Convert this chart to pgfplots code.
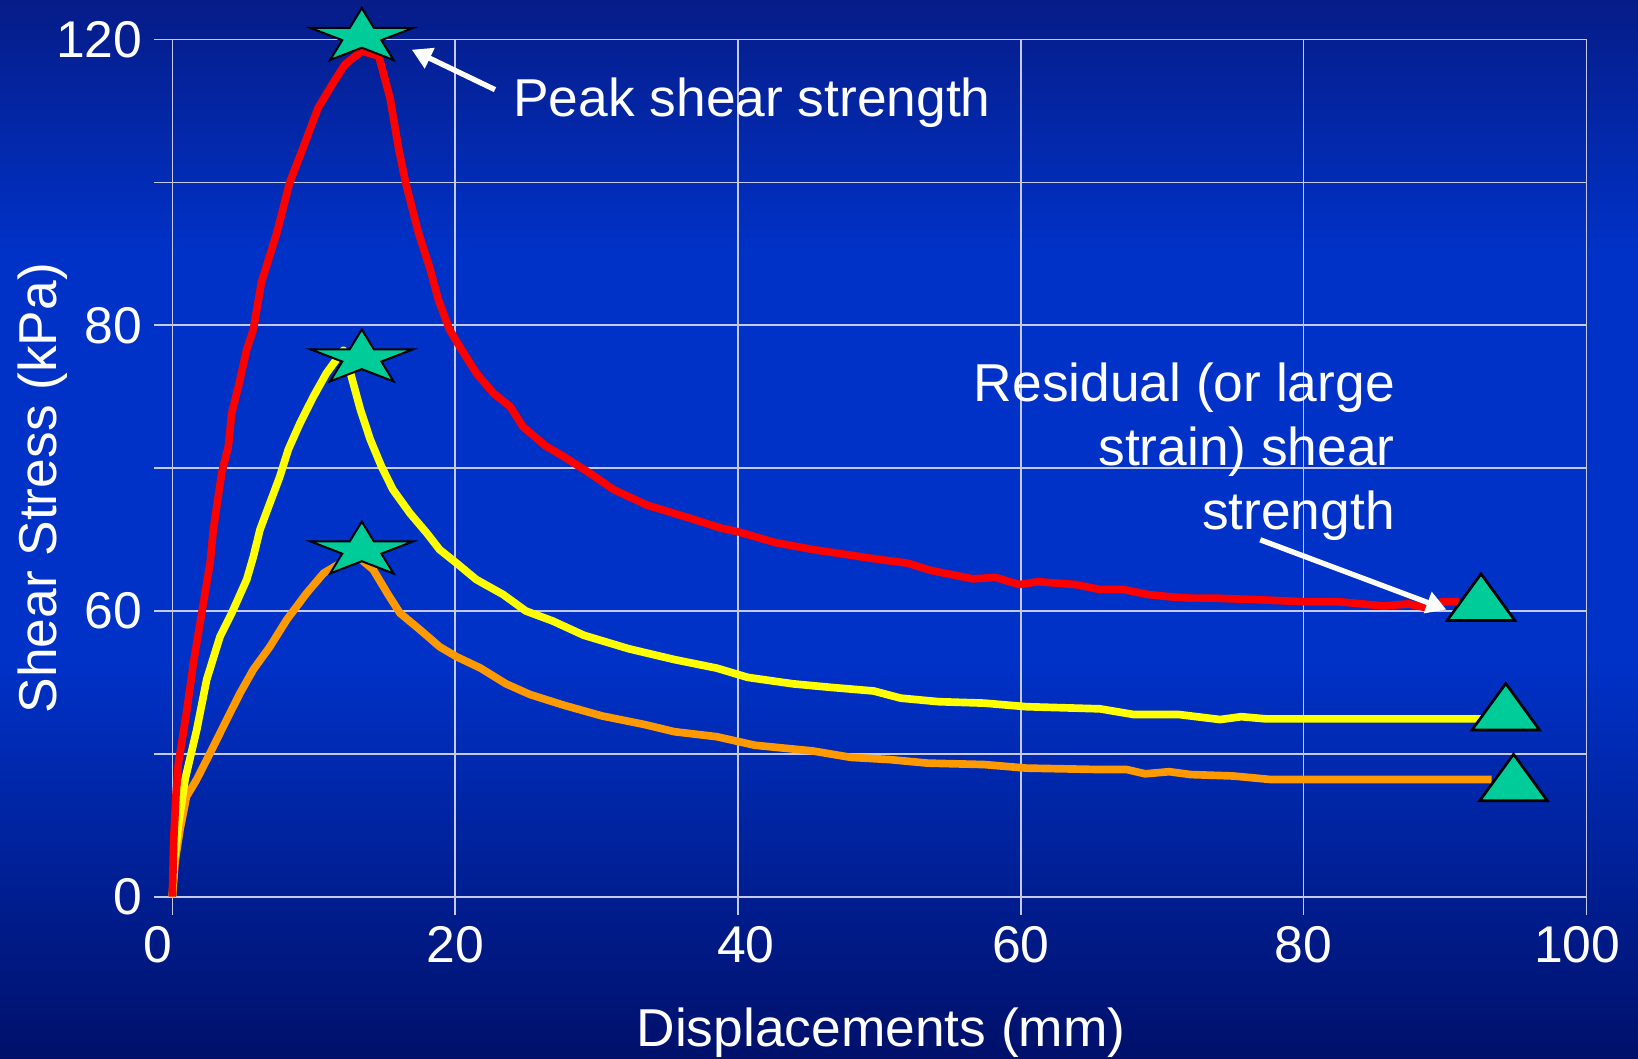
\documentclass[border=0pt]{standalone}
\usepackage{fontspec}
\setmainfont{Liberation Sans}
\usepackage{pgfplots}
\pgfplotsset{compat=1.18}
\usetikzlibrary{arrows.meta}
\definecolor{bgtop}{RGB}{6,28,136}
\definecolor{bgmid}{RGB}{0,50,200}
\definecolor{bgbot}{RGB}{0,16,106}
\definecolor{gridc}{RGB}{196,202,234}
\definecolor{starc}{RGB}{0,204,153}
\definecolor{curvered}{RGB}{255,0,0}
\definecolor{curveyel}{RGB}{255,255,0}
\definecolor{curveora}{RGB}{255,153,0}
\pgfdeclareverticalshading{bgshade}{100bp}{color(0bp)=(bgbot); color(25bp)=(bgbot); color(44bp)=(bgmid); color(63bp)=(bgmid); color(75bp)=(bgtop); color(100bp)=(bgtop)}
\pgfdeclareplotmark{fstar}{%
  \pgfpathmoveto{\pgfpointpolar{90}{\pgfplotmarksize}}%
  \pgfpathlineto{\pgfpointpolar{126}{0.382\pgfplotmarksize}}%
  \pgfpathlineto{\pgfpointpolar{162}{\pgfplotmarksize}}%
  \pgfpathlineto{\pgfpointpolar{198}{0.382\pgfplotmarksize}}%
  \pgfpathlineto{\pgfpointpolar{234}{\pgfplotmarksize}}%
  \pgfpathlineto{\pgfpointpolar{270}{0.382\pgfplotmarksize}}%
  \pgfpathlineto{\pgfpointpolar{306}{\pgfplotmarksize}}%
  \pgfpathlineto{\pgfpointpolar{342}{0.382\pgfplotmarksize}}%
  \pgfpathlineto{\pgfpointpolar{18}{\pgfplotmarksize}}%
  \pgfpathlineto{\pgfpointpolar{54}{0.382\pgfplotmarksize}}%
  \pgfpathclose
  \pgfusepathqfillstroke
}
\begin{document}
\begin{tikzpicture}
\shade[shading=bgshade] (-51.7pt,-48.7pt) rectangle (439.7pt,269.0pt);
\path[use as bounding box] (-51.7pt,-48.7pt) rectangle (439.7pt,269.0pt);
\begin{axis}[
  at={(0,0)}, anchor=south west,
  scale only axis, width=424.2pt, height=257.1pt,
  xmin=0, xmax=100, ymin=0, ymax=120,
  xtick={0,20,...,100}, ytick={0,20,...,120},
  xticklabels={{\kern-4.4pt 0\kern4.4pt},20,{\kern2.4pt 40\kern-2.4pt},60,80,{\kern-2.7pt 100\kern2.7pt}},
  yticklabels={0,,60,,80,,120},
  grid=major, grid style={gridc, line width=0.5pt},
  axis line style={gridc, line width=0.5pt},
  tick style={gridc, line width=0.5pt},
  tick pos=left,
  tick align=outside, major tick length=5.5pt,
  ticklabel style={font=\fontsize{15.5}{18}\selectfont, text=white},
  /pgf/number format/assume math mode=true,
  xlabel={Displacements (mm)}, ylabel={Shear Stress (kPa)},
  label style={font=\fontsize{16}{19}\selectfont, text=white},
  xlabel style={at={(axis description cs:0.5012,-0.1749)}, anchor=base},
  ylabel style={at={(axis description cs:-0.0818,0.4766)}, anchor=base},
  clip=false,
]
% orange curve
\addplot[curveora, line width=2.3pt, line join=round] coordinates {
(0,0) (0.2,5) (0.54,9.35) (1.0,14.0) (1.72,16.4) (2.67,20.1) (3.85,24.8) (4.79,28.5)
(5.73,31.8) (6.9,35.0) (8.1,38.8) (9.5,42.5) (10.7,45.3) (11.9,46.7) (13.0,47.8)
(14.2,45.8) (15.2,42.5) (16.1,39.7) (17.5,37.4) (18.9,35.0) (20.1,33.6) (21.8,32.0)
(23.6,29.8) (25.3,28.3) (27.7,26.8) (30.4,25.3) (33.4,24.1) (35.5,23.1) (38.5,22.4)
(41.2,21.2) (45.3,20.4) (48,19.5) (50.7,19.2) (53.4,18.7) (57.4,18.5) (60.4,18.0)
(65.6,17.8) (67.5,17.8) (68.8,17.2) (70.5,17.5) (72,17.1) (75,16.9) (77.7,16.4) (93.3,16.4)
};
% yellow curve
\addplot[curveyel, line width=2.3pt, line join=round] coordinates {
(0,0) (0.15,5) (0.43,10) (0.9,16.4) (1.73,23.4) (2.43,30.4) (3.37,36.4) (4.2,39.7)
(5.26,44.4) (5.73,47.6) (6.2,51.4) (6.9,55.1) (7.6,58.8) (8.2,62.6) (9.03,66.3)
(9.97,70.0) (10.9,73.3) (11.6,75.2) (12.1,76.5) (12.6,73.3) (13.3,68.2) (14.0,64.0)
(14.8,60.2) (15.6,57.0) (16.8,53.7) (18.0,50.9) (18.9,48.6) (20.1,46.7) (21.5,44.4)
(23.4,42.3) (25,40) (26.9,38.6) (29.1,36.6) (32.3,34.7) (35.5,33.2) (38.5,32)
(40.7,30.7) (43.9,29.8) (46.6,29.3) (49.6,28.8) (51.5,27.8) (54.2,27.3) (57.4,27.1)
(60.4,26.6) (65.6,26.3) (68,25.5) (71.2,25.5) (74.1,24.8) (75.6,25.2) (77.3,24.9) (92.6,24.9)
};
% red curve
\addplot[curvered, line width=2.3pt, line join=round] coordinates {
(0,0) (0.1,8) (0.25,14) (0.43,18.7) (1.0,25.7) (1.49,32.7) (2.08,39.7) (2.67,46.7)
(2.9,51.4) (3.49,59.3) (3.96,63) (4.2,67.7) (4.67,71.4) (5.26,76.6) (5.73,79.4)
(6.3,86) (7.4,93) (8.3,100) (9.2,104.6) (10.3,110.4) (11.36,113.9) (12.2,116.5)
(13.4,118.4) (14.6,117.7) (15.4,111.8) (16.0,104.8) (16.5,100) (17.4,93) (18.2,88.1)
(18.8,83.7) (19.6,79.4) (20.3,77.1) (21.5,73.3) (22.7,70.5) (23.9,68.6) (24.8,65.8)
(26.4,63.1) (27.7,61.6) (29.6,59.2) (31.2,57.0) (33.6,54.8) (36.6,53.0) (38.8,51.6)
(40,51.1) (42.6,49.6) (45.3,48.6) (47.7,47.9) (49.3,47.4) (52.0,46.7) (53.6,45.7)
(56.6,44.5) (58.2,44.7) (59.9,43.7) (61.2,44.1) (63.9,43.7) (65.6,43.0) (67.3,43.0)
(69.0,42.3) (70.5,42.0) (72,41.8) (73.6,41.8) (76.5,41.6) (80.1,41.3) (82.5,41.3)
(85.7,40.7) (87.4,41.0) (88.8,40.4) (89.8,41.3) (91.0,41.3)
};
% peak stars
\addplot[only marks, mark=fstar, mark size=8.6pt,
  mark options={xscale=1.88, fill=starc, draw=black, line width=0.6pt}]
  coordinates {(13.4,120.4) (13.4,75.4) (13.4,48.5)};
% residual triangles
\addplot[only marks, mark=triangle*, mark size=9.3pt,
  mark options={xscale=1.26, fill=starc, draw=black, line width=0.8pt}]
  coordinates {(92.55,40.85) (94.3,25.5) (94.85,15.6)};
% annotations
\draw[white, line width=1.6pt, -{Triangle[length=6pt,width=6.5pt]}]
  (axis cs:22.82,113.0) -- (axis cs:16.93,118.6);
\node[anchor=base west, inner sep=0pt, text=white, font=\fontsize{16}{19}\selectfont]
  at (axis cs:24.07,109.2) {Peak shear strength};
\draw[white, line width=1.6pt, -{Triangle[length=6pt,width=6.5pt]}]
  (axis cs:76.94,49.97) -- (axis cs:90.1,40.2);
\node[anchor=base east, inner sep=0pt, text=white, font=\fontsize{16}{19}\selectfont]
  at (axis cs:86.5,69.34) {Residual (or large};
\node[anchor=base east, inner sep=0pt, text=white, font=\fontsize{16}{19}\selectfont]
  at (axis cs:86.5,60.38) {strain) shear};
\node[anchor=base east, inner sep=0pt, text=white, font=\fontsize{16}{19}\selectfont]
  at (axis cs:86.5,51.37) {strength};
\end{axis}
\end{tikzpicture}
\end{document}
